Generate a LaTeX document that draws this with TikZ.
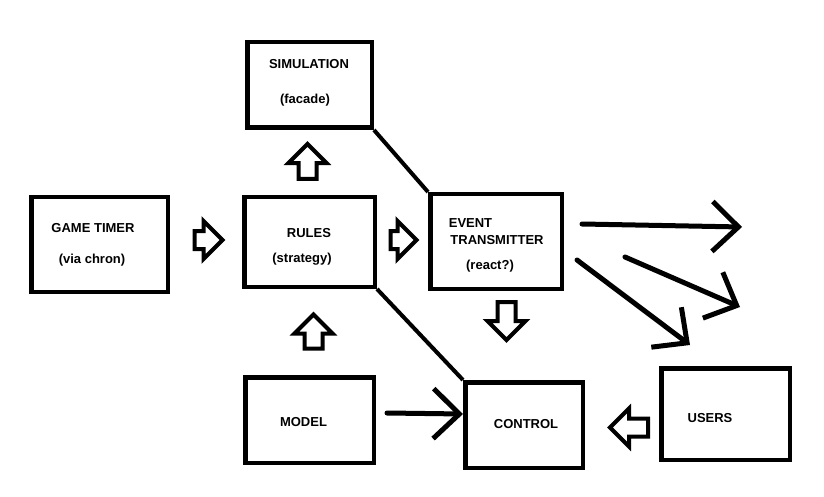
\documentclass[tikz,border=0pt]{standalone}
\usepackage{fontspec}
\setmainfont{Liberation Sans}
\usetikzlibrary{arrows.meta, shapes.arrows}

\begin{document}
\begin{tikzpicture}[x=1pt, y=-1pt,
    box/.style={rectangle, draw=black, line width=4.5pt, inner sep=0pt},
    txt/.style={anchor=base, inner sep=0pt, font=\fontsize{13}{15}\selectfont\bfseries},
    fatarrow/.style={single arrow, draw=black, line width=4pt, inner sep=0pt, inner ysep=7pt,
        single arrow head extend=10pt, minimum height=#1},
    fatarrow/.default=28pt,
    link/.style={line width=4pt},
    openarrow/.style={line width=5pt, line cap=round, -{Straight Barb[length=26pt, width=50pt]}}]
    \useasboundingbox (0, 0) rectangle (824, 497);

    \node[box, minimum width=124.5pt, minimum height=85.5pt] (sim) at (309.5, 85) {};
    \node[box, minimum width=136.5pt, minimum height=94.5pt] (timer) at (99.5, 244.5) {};
    \node[box, minimum width=130.5pt, minimum height=89.5pt] (rules) at (309.5, 242) {};
    \node[box, minimum width=131.5pt, minimum height=94.5pt] (evt) at (496, 241.5) {};
    \node[box, minimum width=128.5pt, minimum height=85.5pt] (model) at (309.5, 420) {};
    \node[box, minimum width=117.5pt, minimum height=85.5pt] (ctrl) at (524, 425) {};
    \node[box, minimum width=128.5pt, minimum height=91.5pt] (users) at (725.5, 414) {};

    \node[txt] (simname) at (309, 69) {SIMULATION};
    \node[txt] (simnote) at (305, 104) {(facade)};
    \node[txt] (timername) at (93, 232) {GAME TIMER};
    \node[txt] (timernote) at (92, 263) {(via chron)};
    \node[txt] (rulesname) at (309, 237) {RULES};
    \node[txt] (rulesnote) at (302, 262) {(strategy)};
    \node[txt] (evtname1) at (470.5, 227) {EVENT};
    \node[txt] (evtname2) at (497, 244) {TRANSMITTER};
    \node[txt] (evtnote) at (490, 269) {(react?)};
    \node[txt] (modelname) at (303.5, 426) {MODEL};
    \node[txt] (ctrlname) at (526, 428) {CONTROL};
    \node[txt] (usersname) at (710, 422) {USERS};

    \node[fatarrow] (timer2rules) at (204, 240) {};
    \node[fatarrow=26pt] (rules2evt) at (399, 240) {};
    \node[fatarrow=35pt, rotate=90] (rules2sim) at (307.5, 166) {};
    \node[fatarrow=34pt, rotate=90] (model2rules) at (313.5, 336) {};
    \node[fatarrow=38pt, rotate=-90] (evt2ctrl) at (506.5, 316.5) {};
    \node[fatarrow=38pt, rotate=180] (users2ctrl) at (633.5, 427.5) {};

    \coordinate (out1a) at (582, 224);
    \coordinate (out1b) at (742, 227);
    \coordinate (out2a) at (625, 257);
    \coordinate (out2b) at (740, 307);
    \coordinate (out3a) at (577, 260);
    \coordinate (out3b) at (690, 345);

    \draw[link] (sim.south east) -- (evt.north west);
    \draw[link] (rules.south east) -- (ctrl.north west);
    \draw[openarrow] ([xshift=11pt, yshift=7pt]model.east) -- ([yshift=11pt]ctrl.west);
    \draw[openarrow] (out1a) -- (out1b);
    \draw[openarrow] (out2a) -- (out2b);
    \draw[openarrow] (out3a) -- (out3b);
\end{tikzpicture}
\end{document}
